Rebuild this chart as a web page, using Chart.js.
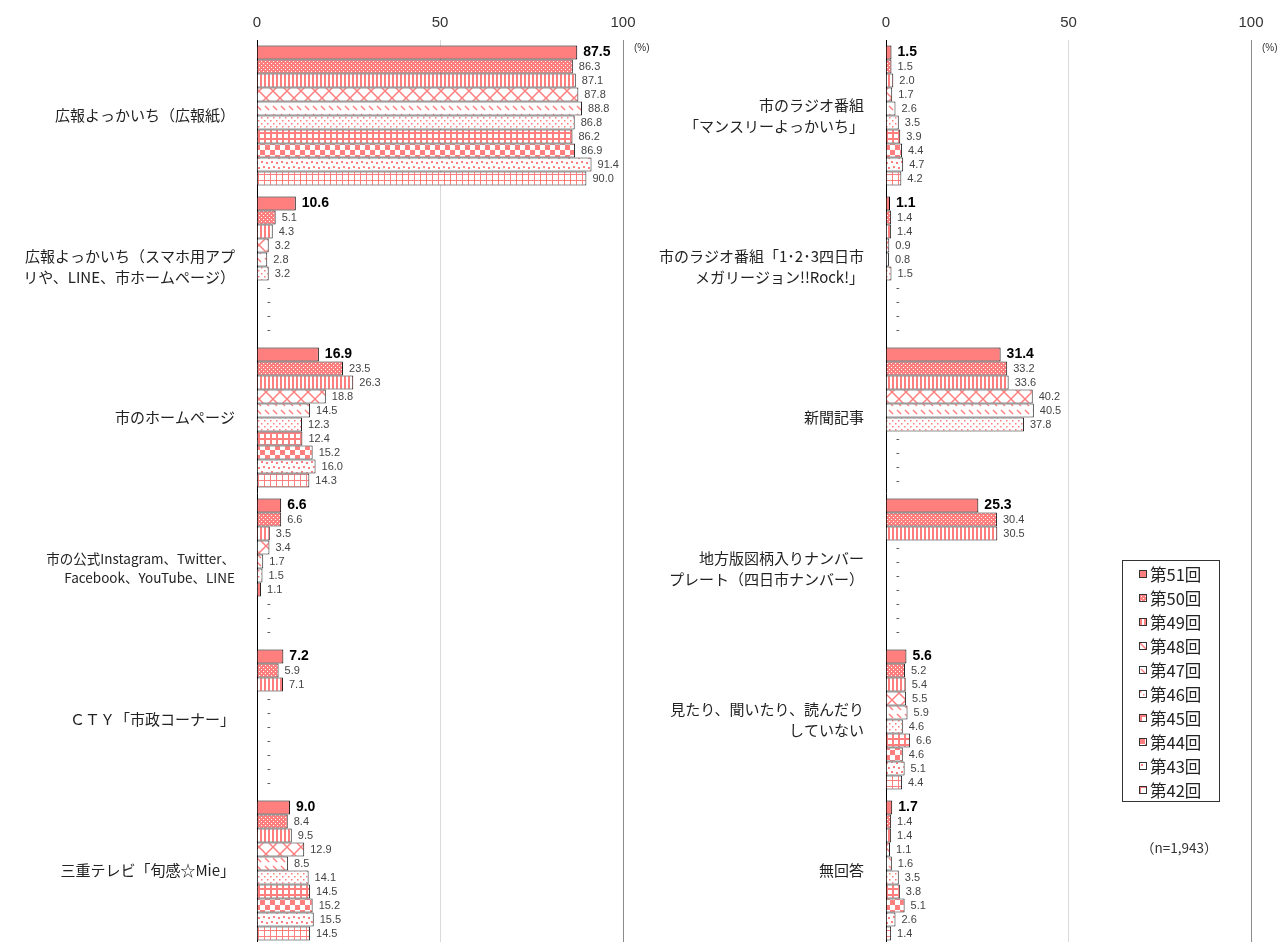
<!DOCTYPE html>
<html lang="ja">
<head>
<meta charset="utf-8">
<script src="https://cdn.jsdelivr.net/npm/chart.js@4"></script>
<style>
  body { margin: 0; width: 1282px; height: 942px; overflow: hidden; background: #fff; position: relative;
         font-family: "Noto Sans CJK JP", sans-serif; }
  #leftChart { position: absolute; left: 0; top: 0; }
  #rightChart { position: absolute; left: 640px; top: 0; }
  #legend { position: absolute; left: 1122px; top: 560px; width: 98px; height: 242px;
            border: 1px solid #333; box-sizing: border-box; padding-top: 1px; }
  .item { height: 24px; display: flex; align-items: center; padding-left: 16px;
          font-size: 16.5px; color: #222; }
  .sw { width: 6px; height: 6px; border: 1px solid #333; margin-right: 3px; }
  #nNote { position: absolute; left: 1141px; top: 837px; font-size: 13.5px; color: #333; }
</style>
</head>
<body>
<canvas id="leftChart" width="660" height="946"></canvas>
<canvas id="rightChart" width="642" height="946"></canvas>
<div id="legend"></div>
<div id="nNote">（n=1,943）</div>
<script>
// 調査回（凡例）
const rounds = ["第51回", "第50回", "第49回", "第48回", "第47回", "第46回", "第45回", "第44回", "第43回", "第42回"];
const ticksX = [0, 50, 100];

// 左パネル カテゴリ
const leftCategories = [
  "広報よっかいち（広報紙）",
  ["広報よっかいち（スマホ用アプ", "リや、LINE、市ホームページ）"],
  "市のホームページ",
  ["市の公式Instagram、Twitter、", "Facebook、YouTube、LINE"],
  "ＣＴＹ「市政コーナー」",
  "三重テレビ「旬感☆Mie」"
];
// 各カテゴリの値（第51回 → 第42回）、null は「-」
const kohoShi   = [87.5, 86.3, 87.1, 87.8, 88.8, 86.8, 86.2, 86.9, 91.4, 90.0];
const kohoApp   = [10.6, 5.1, 4.3, 3.2, 2.8, 3.2, null, null, null, null];
const homePage  = [16.9, 23.5, 26.3, 18.8, 14.5, 12.3, 12.4, 15.2, 16.0, 14.3];
const sns       = [6.6, 6.6, 3.5, 3.4, 1.7, 1.5, 1.1, null, null, null];
const cty       = [7.2, 5.9, 7.1, null, null, null, null, null, null, null];
const mieTv     = [9.0, 8.4, 9.5, 12.9, 8.5, 14.1, 14.5, 15.2, 15.5, 14.5];

// 右パネル カテゴリ
const rightCategories = [
  ["市のラジオ番組", "「マンスリーよっかいち」"],
  ["市のラジオ番組「1･2･3四日市", "メガリージョン!!Rock!」"],
  "新聞記事",
  ["地方版図柄入りナンバー", "プレート（四日市ナンバー）"],
  ["見たり、聞いたり、読んだり", "していない"],
  "無回答"
];
const radioMonthly = [1.5, 1.5, 2.0, 1.7, 2.6, 3.5, 3.9, 4.4, 4.7, 4.2];
const radioRock    = [1.1, 1.4, 1.4, 0.9, 0.8, 1.5, null, null, null, null];
const newspaper    = [31.4, 33.2, 33.6, 40.2, 40.5, 37.8, null, null, null, null];
const plate        = [25.3, 30.4, 30.5, null, null, null, null, null, null, null];
const noneSeen     = [5.6, 5.2, 5.4, 5.5, 5.9, 4.6, 6.6, 4.6, 5.1, 4.4];
const noAnswer     = [1.7, 1.4, 1.4, 1.1, 1.6, 3.5, 3.8, 5.1, 2.6, 1.4];

const leftRows = [kohoShi, kohoApp, homePage, sns, cty, mieTv];
const rightRows = [radioMonthly, radioRock, newspaper, plate, noneSeen, noAnswer];

const PINK = "#ff7f7f";

// 模様タイル
function tile(w, h, draw) {
  const c = document.createElement("canvas");
  c.width = w; c.height = h;
  const g = c.getContext("2d");
  g.fillStyle = "#fff";
  g.fillRect(0, 0, w, h);
  g.fillStyle = PINK;
  g.strokeStyle = PINK;
  draw(g);
  return c;
}
const tiles = [
  tile(4, 4, g => { g.fillRect(0, 0, 4, 4); }),
  tile(4, 4, g => { g.fillRect(0, 0, 4, 4); g.fillStyle = "#fff"; g.fillRect(1, 1, 1, 1); g.fillRect(3, 3, 1, 1); }),
  tile(4, 1, g => { g.fillRect(0, 0, 2, 1); }),
  tile(14, 14, g => { g.lineWidth = 1.5; g.beginPath(); g.moveTo(0, 0); g.lineTo(14, 14); g.moveTo(14, 0); g.lineTo(0, 14); g.stroke(); }),
  tile(8, 8, g => { g.lineWidth = 1.5; g.beginPath(); g.moveTo(1, 2); g.lineTo(5, 6); g.stroke(); }),
  tile(6, 6, g => { g.fillRect(0, 0, 1.5, 1.5); g.fillRect(3, 3, 1.5, 1.5); }),
  tile(6, 6, g => { g.fillRect(0, 0, 6, 2); g.fillRect(0, 0, 2, 6); }),
  tile(10, 10, g => { g.fillRect(0, 0, 5, 5); g.fillRect(5, 5, 5, 5); }),
  tile(10, 10, g => { g.fillRect(1, 1, 2, 2); g.fillRect(6, 2, 2, 2); g.fillRect(3, 6, 2, 2); g.fillRect(8, 7, 2, 2); }),
  tile(6, 6, g => { g.fillRect(0, 0, 6, 1); g.fillRect(0, 0, 1, 6); })
];

function buildDatasets(rows, ctx) {
  return rounds.map((r, si) => ({
    label: r,
    data: rows.map(row => row[si]),
    backgroundColor: ctx.createPattern(tiles[si], "repeat"),
    borderColor: si === 0 ? "#000" : "#222",
    borderWidth: 1,
    barPercentage: 1,
    categoryPercentage: 0.927
  }));
}

const valueLabels = {
  id: "valueLabels",
  afterDatasetsDraw(chart) {
    const ctx = chart.ctx;
    const x0 = chart.scales.x.getPixelForValue(0);
    chart.data.datasets.forEach((ds, di) => {
      chart.getDatasetMeta(di).data.forEach((bar, i) => {
        const v = ds.data[i];
        ctx.save();
        ctx.textBaseline = "middle";
        if (di === 0) {
          ctx.font = 'bold 14px "Liberation Sans", Arial, sans-serif';
          ctx.fillStyle = "#000";
        } else {
          ctx.font = '11px "Liberation Sans", Arial, sans-serif';
          ctx.fillStyle = "#444";
        }
        const txt = v === null ? "-" : v.toFixed(1);
        const x = v === null ? x0 + 10 : bar.x + 6;
        ctx.fillText(txt, x, bar.y);
        ctx.restore();
      });
    });
    // (%) 表示
    ctx.save();
    ctx.font = '10px "Liberation Sans", Arial, sans-serif';
    ctx.fillStyle = "#333";
    ctx.textBaseline = "middle";
    ctx.fillText("(%)", chart.chartArea.right + 11, 48);
    ctx.restore();
  }
};

function noPad(scale) {
  scale.paddingLeft = 0; scale.paddingRight = 0;
  scale.paddingTop = 0; scale.paddingBottom = 0;
}

function makeChart(id, categories, rows, axisWidth, padRight, smallIndex) {
  const canvas = document.getElementById(id);
  const ctx = canvas.getContext("2d");
  return new Chart(ctx, {
    type: "bar",
    data: { labels: categories, datasets: buildDatasets(rows, ctx) },
    plugins: [valueLabels],
    options: {
      indexAxis: "y",
      responsive: false,
      animation: false,
      layout: { padding: { top: 0, right: padRight, bottom: 0, left: 0 } },
      plugins: { legend: { display: false }, tooltip: { enabled: false } },
      scales: {
        x: {
          position: "top",
          min: 0,
          max: 100,
          afterBuildTicks: (scale) => { scale.ticks = ticksX.map(v => ({ value: v })); },
          afterFit: (scale) => { scale.height = 40; noPad(scale); },
          border: { display: false },
          grid: {
            drawTicks: false,
            color: (c) => c.tick && c.tick.value === 50 ? "#d9d9d9" : (c.tick && c.tick.value === 100 ? "#8c8c8c" : "transparent")
          },
          ticks: {
            padding: 8,
            color: "#333",
            font: { family: '"Liberation Sans", Arial, sans-serif', size: 15 }
          }
        },
        y: {
          afterFit: (scale) => { scale.width = axisWidth; noPad(scale); },
          border: { display: true, color: "#000", width: 1 },
          grid: { display: false, drawTicks: false },
          ticks: {
            padding: 22,
            color: "#222",
            font: (c) => ({ family: '"Noto Sans CJK JP", sans-serif', size: c.index === smallIndex ? 13.5 : 15, lineHeight: 1.4 })
          }
        }
      }
    }
  });
}

makeChart("leftChart", leftCategories, leftRows, 257, 37, 3);
makeChart("rightChart", rightCategories, rightRows, 246, 31, -1);

// 凡例
const legend = document.getElementById("legend");
rounds.forEach((r, i) => {
  const item = document.createElement("div");
  item.className = "item";
  const sw = document.createElement("span");
  sw.className = "sw";
  sw.style.backgroundImage = "url(" + tiles[i].toDataURL() + ")";
  const tx = document.createElement("span");
  tx.textContent = r;
  item.appendChild(sw);
  item.appendChild(tx);
  legend.appendChild(item);
});
</script>
</body>
</html>
